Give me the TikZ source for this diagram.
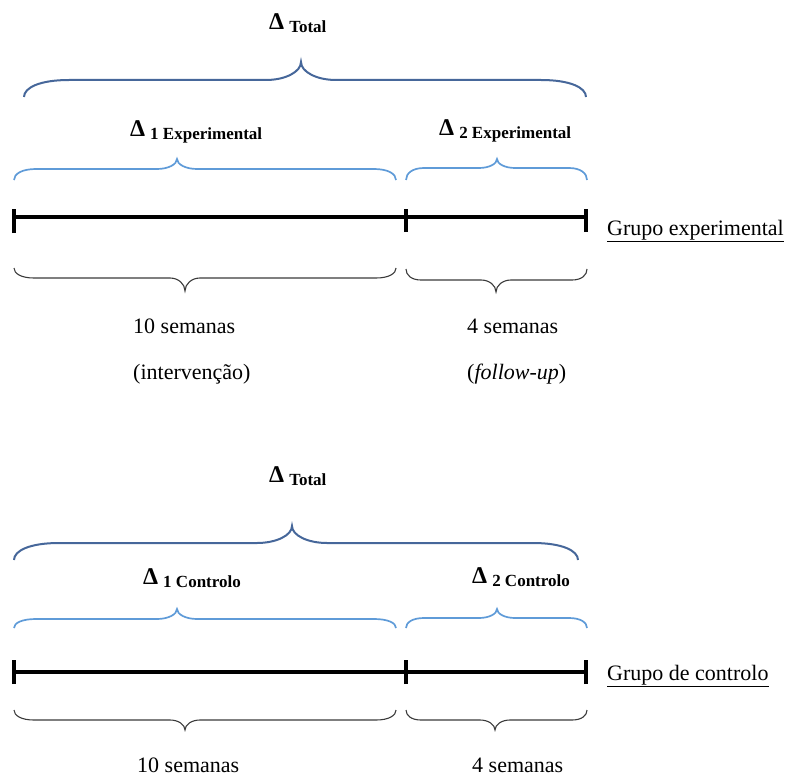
\documentclass[tikz,border=0pt]{standalone}
\usepackage{fontspec}
\setmainfont{Liberation Serif}
\definecolor{bracedark}{HTML}{46679A}
\definecolor{bracelight}{HTML}{5F9BD8}
\definecolor{braceblack}{HTML}{3A3A3A}
% #1 style, #2 x1, #3 x2, #4 y ends, #5 y flat, #6 x tip, #7 y tip, #8 end radius, #9 tip radius
\newcommand\mybrace[9]{%
  \draw[#1] (#2,#4) .. controls (#2,{#5+0.45*(#4-#5)}) and ({#2+0.35*#8},#5) .. ({#2+#8},#5)
    -- ({#6-#9},#5) .. controls ({#6-0.45*#9},#5) and (#6,{#5+0.45*(#7-#5)}) .. (#6,#7)
    .. controls (#6,{#5+0.45*(#7-#5)}) and ({#6+0.45*#9},#5) .. ({#6+#9},#5)
    -- ({#3-#8},#5) .. controls ({#3-0.35*#8},#5) and (#3,{#5+0.45*(#4-#5)}) .. (#3,#4);}
\newcommand\dsub[1]{\hspace{5pt}\raisebox{-3pt}{\fontsize{17}{20}\selectfont #1}}
\tikzset{
  txt/.style={inner sep=0pt, anchor=base west, font=\fontsize{22}{26}\selectfont},
  dlt/.style={inner sep=0pt, anchor=base west, font=\bfseries\fontsize{24}{28}\selectfont},
  darkbr/.style={draw=bracedark, line width=2pt},
  lightbr/.style={draw=bracelight, line width=1.7pt},
  blackbr/.style={draw=braceblack, line width=1.1pt},
  axisline/.style={line width=3.8pt},
  tickline/.style={line width=3.6pt},
}
\begin{document}
\begin{tikzpicture}[x=1pt,y=-1pt]
\useasboundingbox (0,0) rectangle (786,778);
% ---------- experimental group ----------
\node[dlt] (dtotA) at (269,30) {Δ\dsub{Total}};
\mybrace{darkbr}{24}{586}{97}{80}{301}{62}{45}{35}
\node[dlt] (d1E) at (130,137) {Δ\dsub{1 Experimental}};
\node[dlt] (d2E) at (439,136) {Δ\dsub{2 Experimental}};
\mybrace{lightbr}{14}{396}{180}{169}{177}{159}{22}{20}
\mybrace{lightbr}{406}{587}{180}{168}{497}{159}{18}{18}
\coordinate (a0) at (14,217);
\coordinate (a1) at (406,217);
\coordinate (a2) at (586,217);
\draw[axisline] (a0) -- (a2);
\draw[tickline] ([yshift=-16pt]a0) -- ([yshift=8pt]a0);
\draw[tickline] ([yshift=-15pt]a1) -- ([yshift=8pt]a1);
\draw[tickline] ([yshift=-15pt]a2) -- ([yshift=8pt]a2);
\node[txt] (gE) at (607,235) {\underline{Grupo experimental}};
\mybrace{blackbr}{14}{396}{268}{278}{185}{291}{20}{15}
\mybrace{blackbr}{406}{587}{269}{280}{496}{292}{15}{15}
\node[txt] (s10A) at (133,333) {10 semanas};
\node[txt] (intA) at (133,379) {(intervenção)};
\node[txt] (s4A) at (467,333) {4 semanas};
\node[txt] (fuA) at (467,379) {(\textit{follow-up})};
% ---------- control group ----------
\node[dlt] (dtotB) at (269,482) {Δ\dsub{Total}};
\mybrace{darkbr}{14}{578}{560}{543}{292}{526}{45}{35}
\node[dlt] (d1C) at (143,584) {Δ\dsub{1 Controlo}};
\node[dlt] (d2C) at (472,583) {Δ\dsub{2 Controlo}};
\mybrace{lightbr}{14}{396}{628}{619}{177}{609}{22}{20}
\mybrace{lightbr}{406}{587}{628}{618}{497}{609}{18}{18}
\coordinate (b0) at (14,672);
\coordinate (b1) at (406,672);
\coordinate (b2) at (586,672);
\draw[axisline] (b0) -- (b2);
\draw[tickline] ([yshift=-12pt]b0) -- ([yshift=12pt]b0);
\draw[tickline] ([yshift=-12pt]b1) -- ([yshift=12pt]b1);
\draw[tickline] ([yshift=-12pt]b2) -- ([yshift=12pt]b2);
\node[txt] (gC) at (607,680) {\underline{Grupo de controlo}};
\mybrace{blackbr}{14}{396}{710}{720}{185}{730}{20}{15}
\mybrace{blackbr}{406}{587}{710}{720}{495}{730}{15}{15}
\node[txt] (s10B) at (137,772) {10 semanas};
\node[txt] (s4B) at (472,772) {4 semanas};
\end{tikzpicture}
\end{document}
